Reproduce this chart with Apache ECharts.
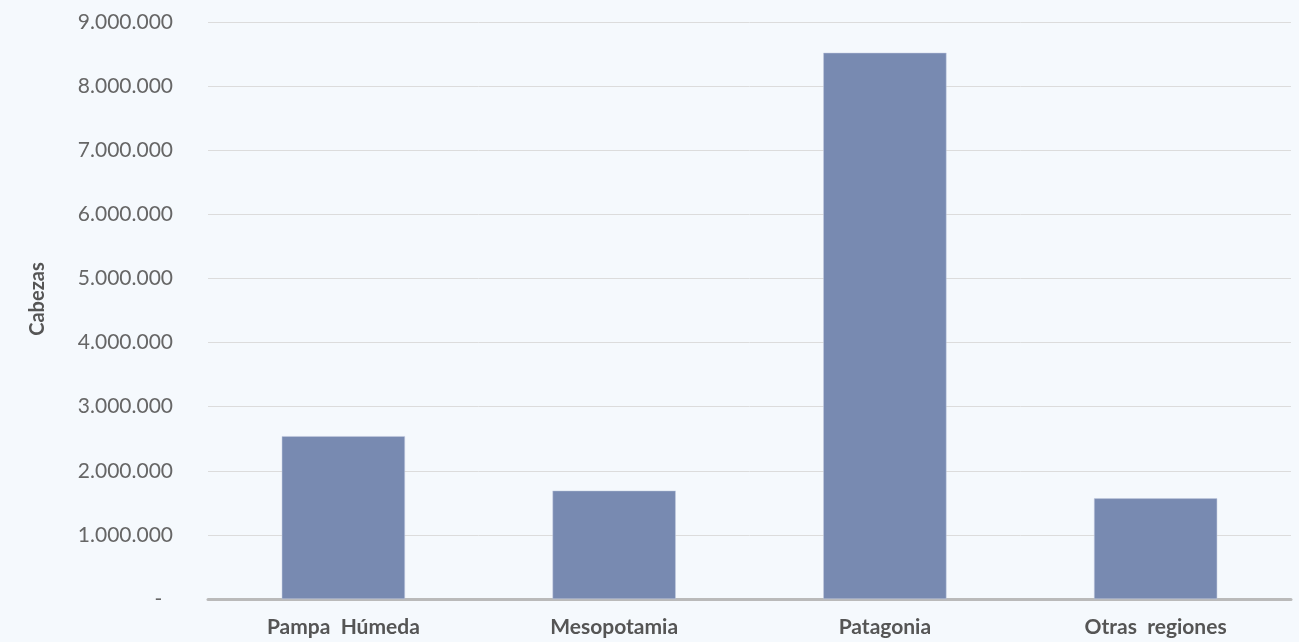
<!DOCTYPE html>
<html><head><meta charset="utf-8">
<script src="https://cdn.jsdelivr.net/npm/echarts@6/dist/echarts.min.js"></script>
<style>html,body{margin:0;padding:0;background:#f5f9fd;}#c{width:1299px;height:642px;}</style>
</head><body><div id="c"></div>
<script>
var categories = ["Pampa  Húmeda", "Mesopotamia", "Patagonia", "Otras  regiones"];
var cabezas = [2540000, 1690000, 8520000, 1570000];
var yTicks = {min: 0, max: 9000000, interval: 1000000};
var yTitle = "Cabezas";

function fmt(v) {
  if (v === 0) return "-  ";
  return String(v).replace(/\B(?=(\d{3})+(?!\d))/g, ".");
}
var chart = echarts.init(document.getElementById('c'));
chart.setOption({
  backgroundColor: '#f5f9fd',
  animation: false,
  grid: {left: 208, right: 8, top: 22, bottom: 43},
  graphic: [{
    type: 'text', x: 38, y: 299, rotation: Math.PI / 2,
    style: {text: yTitle, fill: '#555', font: 'bold 20px Lato', align: 'center', verticalAlign: 'middle'}
  }],
  xAxis: {
    type: 'category', data: categories,
    axisLine: {lineStyle: {color: '#bababa', width: 3}},
    axisTick: {show: false},
    axisLabel: {color: '#555', fontFamily: 'Lato', fontWeight: 'bold', fontSize: 21, margin: 18}
  },
  yAxis: {
    type: 'value', min: yTicks.min, max: yTicks.max, interval: yTicks.interval,
    axisLine: {show: false}, axisTick: {show: false},
    axisLabel: {color: '#666', fontFamily: 'Lato', fontSize: 21, margin: 35, formatter: fmt},
    splitLine: {lineStyle: {color: '#dcdcdc', width: 1}}
  },
  series: [{
    type: 'bar', data: cabezas, barWidth: '45.5%',
    itemStyle: {color: '#788ab1', borderColor: '#c5cde0', borderWidth: 0.5}
  }]
});
</script></body></html>
